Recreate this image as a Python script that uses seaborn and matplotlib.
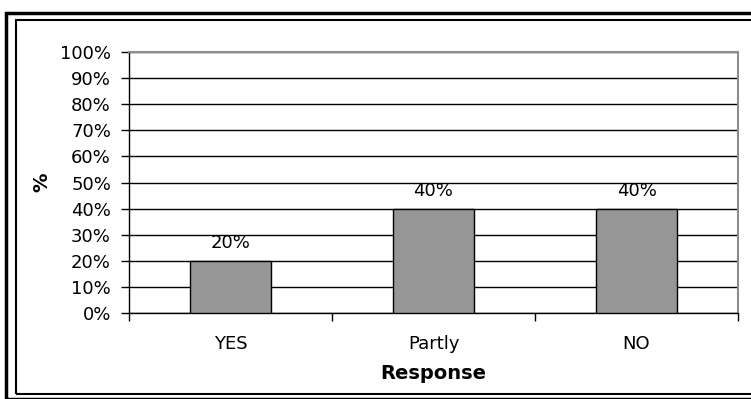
import numpy as np
import pandas as pd
import seaborn as sns
import matplotlib.pyplot as plt
from matplotlib.patches import Rectangle
from matplotlib.ticker import MultipleLocator, FuncFormatter

responses = ['YES', 'Partly', 'NO']
percent = [20, 40, 40]

df = pd.DataFrame({'Response': responses, 'Percent': percent})

sns.set_style('white')
plt.rcParams['font.family'] = ['DejaVu Sans']
plt.rcParams['text.color'] = 'black'
plt.rcParams['axes.labelcolor'] = 'black'
plt.rcParams['xtick.color'] = 'black'
plt.rcParams['ytick.color'] = 'black'

W, H = 751, 399
fig = plt.figure(figsize=(W / 100, H / 100), dpi=100)
ax = fig.add_axes([129 / W, 1 - 313 / H, (738 - 129) / W, (313 - 52) / H])

sns.barplot(data=df, x='Response', y='Percent', color='#969696',
            edgecolor='black', linewidth=1.0, width=0.40, saturation=1, ax=ax, zorder=3)

ax.set_ylim(0, 100)
ax.set_xlim(-0.5, 2.5)
ax.yaxis.set_major_locator(MultipleLocator(10))
ax.yaxis.set_major_formatter(FuncFormatter(lambda v, p: f'{v:.0f}%'))
ax.grid(axis='y', color='black', linewidth=1.0, zorder=0)
ax.set_axisbelow(True)

for i, v in enumerate(percent):
    ax.text(i, v + 3.2, f'{v}%', ha='center', va='bottom', fontsize=13)

for s in ['top', 'right']:
    ax.spines[s].set_color('#8c8c8c')
    ax.spines[s].set_linewidth(1.5)
for s in ['left', 'bottom']:
    ax.spines[s].set_color('black')
    ax.spines[s].set_linewidth(1.0)

ax.tick_params(axis='y', left=True, length=6, width=1, labelsize=13, pad=7)
ax.tick_params(axis='x', bottom=False, labelsize=13, pad=12)
# category boundary ticks on the x axis
ax.set_xticks([-0.5, 0.5, 1.5, 2.5], minor=True)
ax.tick_params(axis='x', which='minor', bottom=True, length=6, width=1)

ax.set_xlabel('Response', fontsize=14, fontweight='bold', labelpad=8)
ax.set_ylabel('%', fontsize=14, fontweight='bold', labelpad=6)

# double frame around the chart
fig.patches.append(Rectangle((6.5 / W, 0), 1, 1 - 12.5 / H, transform=fig.transFigure,
                             fill=False, edgecolor='black', linewidth=2.5))
fig.patches.append(Rectangle((15.5 / W, 1 - 393.5 / H), 1, (393.5 - 20) / H,
                             transform=fig.transFigure, fill=False,
                             edgecolor='black', linewidth=1.5))

fig.savefig('out.png', dpi=100)
